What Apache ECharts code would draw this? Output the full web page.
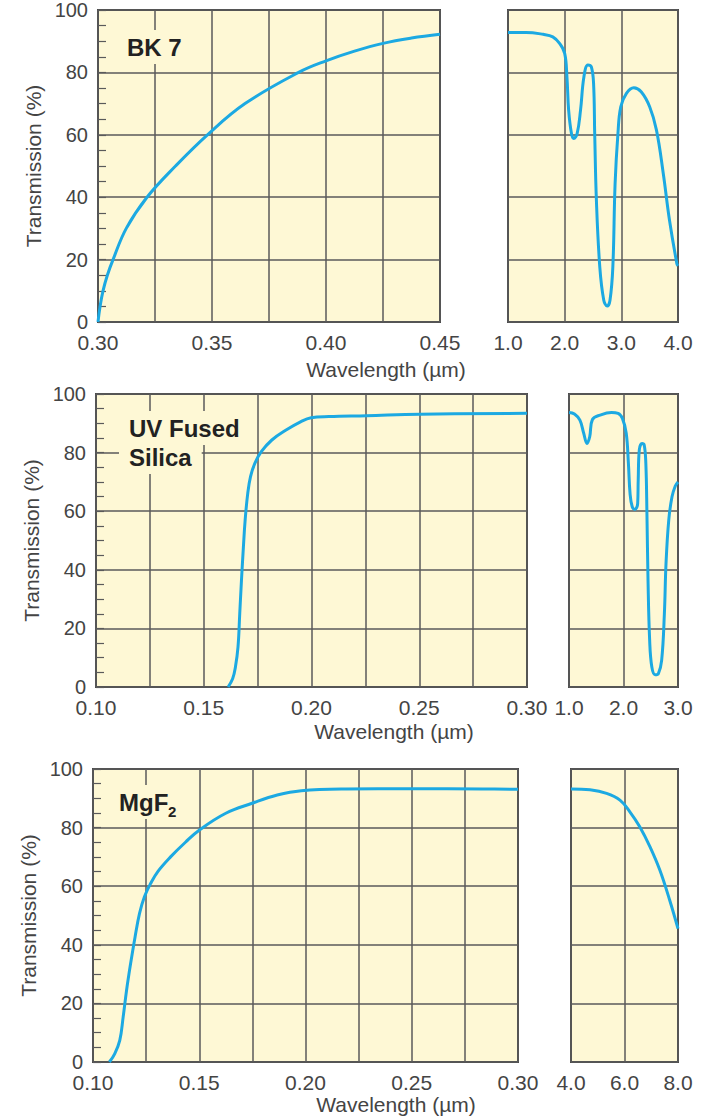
<!DOCTYPE html>
<html>
<head>
<meta charset="utf-8">
<script src="https://cdn.jsdelivr.net/npm/echarts@6/dist/echarts.min.js"></script>
<style>
  html, body { margin: 0; padding: 0; background: #fff; }
  #chart { width: 702px; height: 1117px; }
</style>
</head>
<body>
<div id="chart"></div>
<script>
// BK 7, UV range
const bk7UvWave = [0.300, 0.3009, 0.3022, 0.3041, 0.3066, 0.3124, 0.3215, 0.334, 0.348, 0.3645, 0.388, 0.400, 0.4125, 0.425, 0.4375, 0.450];
const bk7UvTrans = [0, 5, 10, 15, 20, 30, 40, 50, 60, 70, 80, 83.7, 86.8, 89.3, 91, 92.2];
// BK 7, IR range
const bk7IrWave = [1.0, 1.32, 1.62, 1.79, 1.91, 2.0, 2.04, 2.07, 2.12, 2.16, 2.22, 2.28, 2.34, 2.41, 2.47, 2.51, 2.53, 2.56, 2.62, 2.69, 2.75, 2.80, 2.85, 2.89, 2.94, 2.99, 3.09, 3.22, 3.35, 3.5, 3.62, 3.74, 3.85, 3.98, 4.0];
const bk7IrTrans = [92.8, 92.8, 92.2, 91.4, 89.3, 86.1, 78.6, 67.9, 60.4, 58.8, 60.4, 67.9, 78.6, 82.4, 81.8, 76.5, 60.4, 39, 17.6, 7, 5.1, 7, 17.6, 44.4, 60.4, 69, 73.3, 75.1, 73.8, 69, 61.5, 47.6, 32.6, 18.7, 18];
// UV fused silica, UV range
const silicaUvWave = [0.1613, 0.1634, 0.1647, 0.1659, 0.1667, 0.1675, 0.1684, 0.1692, 0.1704, 0.1717, 0.1737, 0.1767, 0.1816, 0.1882, 0.1949, 0.1998, 0.2081, 0.2255, 0.2503, 0.30];
const silicaUvTrans = [0, 2.8, 6.8, 13.7, 25, 36.4, 47.8, 56.9, 66, 71.8, 76.3, 80.3, 84.3, 87.7, 90.5, 91.9, 92.3, 92.6, 93.1, 93.4];
// UV fused silica, IR range
const silicaIrWave = [1.0, 1.10, 1.20, 1.27, 1.33, 1.38, 1.43, 1.57, 1.78, 1.90, 1.98, 2.05, 2.09, 2.12, 2.16, 2.21, 2.26, 2.27, 2.29, 2.34, 2.38, 2.41, 2.43, 2.45, 2.48, 2.52, 2.58, 2.64, 2.70, 2.75, 2.78, 2.83, 2.89, 2.95, 3.0];
const silicaIrTrans = [93.7, 93.2, 91.1, 86.6, 83.1, 85.4, 91.3, 92.8, 93.7, 93.4, 91.7, 86.6, 76.3, 66.1, 61.5, 60.6, 62.6, 70.6, 80.9, 83.1, 82.6, 76.3, 59.2, 36.4, 15.9, 6.8, 4.2, 4.6, 9.1, 25, 42.1, 56.9, 64.9, 68.6, 70];
// MgF2, UV range
const mgf2UvWave = [0.1077, 0.1102, 0.1126, 0.1142, 0.1158, 0.1177, 0.1198, 0.1219, 0.1242, 0.1271, 0.1305, 0.1365, 0.1435, 0.1501, 0.1625, 0.1749, 0.1867, 0.1980, 0.2189, 0.2496, 0.2834, 0.30];
const mgf2UvTrans = [0, 2.8, 7.4, 15.4, 24.5, 33.6, 42.7, 50.7, 56.4, 60.9, 65, 70, 75, 79.2, 84.9, 88.3, 91.1, 92.6, 93.2, 93.3, 93.2, 93.1];
// MgF2, IR range
const mgf2IrWave = [4.0, 4.71, 5.33, 5.83, 6.2, 6.57, 6.95, 7.32, 7.69, 8.0];
const mgf2IrTrans = [93.2, 92.9, 91.7, 89.4, 85.4, 80.3, 73.5, 65.5, 55.2, 45.5];

const uvRanges = [[0.30, 0.45], [0.10, 0.30], [0.10, 0.30]];
const irRanges = [[1.0, 4.0, 1], [1.0, 3.0, 1], [4.0, 8.0, 2]];
const materials = ['BK 7', 'UV Fused\nSilica', 'MgF2'];
const xName = 'Wavelength (\u00b5m)';
const yName = 'Transmission (%)';

const font = '"Liberation Sans", Arial, Helvetica, sans-serif';
const textColor = '#444';
const lineColor = '#1ca9e2';
const gridLine = '#5a5a5a';
const plotBg = '#fef8d5';

const zip = (a, b) => a.map((v, i) => [v, b[i]]);

const grids = [
  { left: 98, top: 10, width: 342, height: 312 },
  { left: 508, top: 10, width: 170, height: 312 },
  { left: 96, top: 394, width: 431, height: 293 },
  { left: 569, top: 394, width: 109, height: 293 },
  { left: 93, top: 769, width: 425, height: 293 },
  { left: 571, top: 769, width: 107, height: 293 }
].map(g => Object.assign(g, {
  show: true, backgroundColor: plotBg, borderColor: '#4a4a4a', borderWidth: 2,
  containLabel: false, outerBoundsMode: 'none'
}));

const xLabel = { color: textColor, fontSize: 21, fontFamily: font, margin: 10, showMinLabel: true, showMaxLabel: true };
const yLabel = { color: textColor, fontSize: 20, fontFamily: font, margin: 10 };

const xAxes = [];
const yAxes = [];
for (let r = 0; r < 3; r++) {
  xAxes.push({
    type: 'value', gridIndex: r * 2, min: uvRanges[r][0], max: uvRanges[r][1], interval: 0.025,
    axisLine: { show: false }, axisTick: { show: false },
    splitLine: { lineStyle: { color: gridLine, width: 1.5 } },
    axisLabel: Object.assign({}, xLabel, {
      formatter: v => (Math.round(v * 40) % 2 === 0 ? v.toFixed(2) : '')
    })
  });
  xAxes.push({
    type: 'value', gridIndex: r * 2 + 1, min: irRanges[r][0], max: irRanges[r][1], interval: irRanges[r][2],
    axisLine: { show: false }, axisTick: { show: false },
    splitLine: { lineStyle: { color: gridLine, width: 1.5 } },
    axisLabel: Object.assign({}, xLabel, { formatter: v => v.toFixed(1) })
  });
  yAxes.push({
    type: 'value', gridIndex: r * 2, min: 0, max: 100, interval: 20,
    name: yName, nameLocation: 'middle', nameGap: 54,
    nameTextStyle: { color: textColor, fontSize: 21, fontFamily: font },
    axisLine: { show: false },
    axisTick: { show: true, inside: true, length: 8, lineStyle: { color: gridLine, width: 1.2 } },
    minorTick: { show: true, splitNumber: 4, length: 8, lineStyle: { color: gridLine, width: 1.2 } },
    splitLine: { lineStyle: { color: gridLine, width: 1.5 } },
    axisLabel: yLabel
  });
  yAxes.push({
    type: 'value', gridIndex: r * 2 + 1, min: 0, max: 100, interval: 20,
    axisLine: { show: false }, axisTick: { show: false }, axisLabel: { show: false },
    splitLine: { lineStyle: { color: gridLine, width: 1.5 } }
  });
}

const curves = [
  zip(bk7UvWave, bk7UvTrans), zip(bk7IrWave, bk7IrTrans),
  zip(silicaUvWave, silicaUvTrans), zip(silicaIrWave, silicaIrTrans),
  zip(mgf2UvWave, mgf2UvTrans), zip(mgf2IrWave, mgf2IrTrans)
];
const series = curves.map((d, i) => ({
  type: 'line', xAxisIndex: i, yAxisIndex: i, data: d,
  showSymbol: false, smooth: 0.4,
  lineStyle: { color: lineColor, width: 3 }, z: 5
}));

// panel labels and the shared x axis names
const boxText = (text, x, y, extra) => ({
  type: 'text', x: x, y: y, z: 100,
  style: Object.assign({
    text: text, fill: '#222', font: 'bold 24px ' + font,
    verticalAlign: 'middle', align: 'left',
    backgroundColor: plotBg, padding: [5, 10]
  }, extra || {})
});
const nameText = (x, y) => ({
  type: 'text', x: x, y: y, z: 100,
  style: { text: xName, fill: textColor, font: '21px ' + font, align: 'center', verticalAlign: 'middle' }
});

const matLines = materials[1].split('\n');
const graphic = [
  boxText(materials[0], 117, 47),
  boxText(matLines[0], 119, 428),
  boxText(matLines[1], 119, 457),
  boxText('MgF', 109, 802, { padding: [5, 4, 5, 10] }),
  { type: 'text', x: 168, y: 811, z: 101,
    style: { text: materials[2].slice(3), fill: '#222', font: 'bold 15px ' + font, verticalAlign: 'middle' } },
  nameText(386, 369),
  nameText(394, 731),
  nameText(396, 1104)
];

const chart = echarts.init(document.getElementById('chart'), null, { renderer: 'svg' });
chart.setOption({
  animation: false,
  grid: grids,
  xAxis: xAxes,
  yAxis: yAxes,
  series: series,
  graphic: graphic
});
</script>
</body>
</html>
